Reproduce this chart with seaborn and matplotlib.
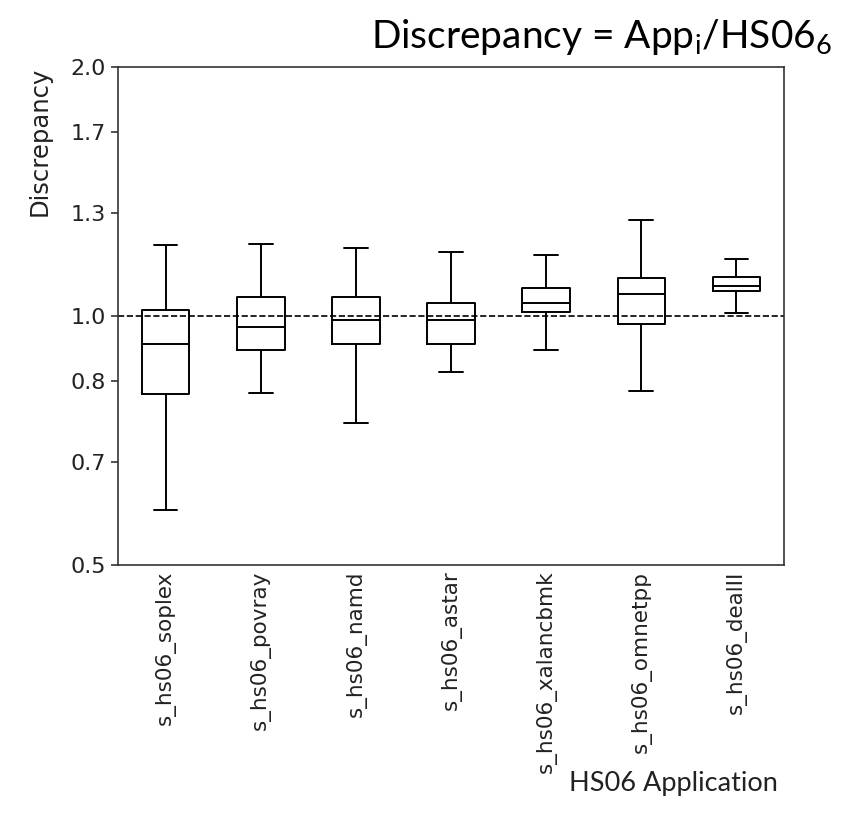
import numpy as np
import pandas as pd
import seaborn as sns
import matplotlib
matplotlib.use("Agg")
import matplotlib.pyplot as plt
from matplotlib.ticker import FixedLocator, FixedFormatter, NullLocator

# Applications (x categories)
apps = ["s_hs06_soplex", "s_hs06_povray", "s_hs06_namd", "s_hs06_astar",
        "s_hs06_xalancbmk", "s_hs06_omnetpp", "s_hs06_dealII"]

# Box statistics (whisker low, Q1, median, Q3, whisker high)
whisker_low = [0.582, 0.808, 0.743, 0.855, 0.909, 0.811, 1.009]
q1 = [0.804, 0.910, 0.924, 0.924, 1.010, 0.979, 1.073]
median = [0.924, 0.970, 0.988, 0.988, 1.036, 1.063, 1.086]
q3 = [1.018, 1.053, 1.053, 1.036, 1.082, 1.111, 1.116]
whisker_high = [1.217, 1.222, 1.207, 1.196, 1.186, 1.305, 1.171]

# y tick positions and labels
ytick_values = [0.5, 2 / 3, 5 / 6, 1.0, 4 / 3, 5 / 3, 2.0]
ytick_labels = ["0.5", "0.7", "0.8", "1.0", "1.3", "1.7", "2.0"]

rows = []
for a, lo, a1, m, a3, hi in zip(apps, whisker_low, q1, median, q3, whisker_high):
    for v in (lo, a1, m, a3, hi):
        rows.append({"app": a, "value": v})
df = pd.DataFrame(rows)

sns.set_style("ticks")
plt.rcParams["font.family"] = ["DejaVu Sans"]

fig = plt.figure(figsize=(8.59, 8.16), dpi=100)
ax = fig.add_axes([0.1374, 0.3076, 0.9127 - 0.1374, 0.9179 - 0.3076])

sns.boxplot(data=df, x="app", y="value", order=apps, whis=(0, 100), width=0.5,
            fill=False, color="black", linewidth=1.4, ax=ax)

ax.axhline(1.0, color="black", linestyle="--", linewidth=1.2, zorder=0)

ax.set_yscale("log")
ax.set_ylim(0.5, 2.0)
ax.set_xlim(-0.5, len(apps) - 0.5)
ax.yaxis.set_major_locator(FixedLocator(ytick_values))
ax.yaxis.set_major_formatter(FixedFormatter(ytick_labels))
ax.yaxis.set_minor_locator(NullLocator())

for s in ax.spines.values():
    s.set_visible(True)
    s.set_color("#333333")
    s.set_linewidth(1.2)

ax.tick_params(axis="y", labelsize=16, length=5, width=1.1, colors="#222222")
ax.tick_params(axis="x", labelsize=15.5, length=0, pad=4, colors="#222222")
plt.setp(ax.get_xticklabels(), rotation=90)
ax.set_xlabel("")
ax.set_ylabel("Discrepancy", fontsize=17.5, color="#222222", labelpad=14, loc="top")

fig.text(0.9686, 0.955, r"Discrepancy = App$_\mathregular{i}$/HS06$_\mathregular{6}$",
         fontsize=28, ha="right", va="center", family=["Lato", "DejaVu Sans"], color="black")
fig.text(0.906, 0.040, "HS06 Application", fontsize=19.5, ha="right", va="center",
         family=["Lato", "DejaVu Sans"], color="#222222")

fig.savefig("out.png", dpi=100)
